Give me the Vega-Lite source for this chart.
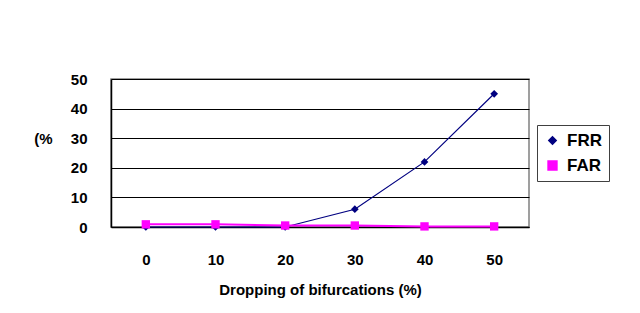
{
  "$schema": "https://vega.github.io/schema/vega-lite/v6.json",
  "width": 418,
  "height": 148,
  "autosize": "none",
  "padding": {"left": 111, "top": 79, "right": 111, "bottom": 86},
  "background": "white",
  "config": {
    "font": "Liberation Sans",
    "view": {"stroke": "#808080", "strokeWidth": 1.5}
  },
  "data": {
    "values": [
      {"drop": "0", "series": "FRR", "value": 0},
      {"drop": "10", "series": "FRR", "value": 0},
      {"drop": "20", "series": "FRR", "value": 0},
      {"drop": "30", "series": "FRR", "value": 6},
      {"drop": "40", "series": "FRR", "value": 22},
      {"drop": "50", "series": "FRR", "value": 45},
      {"drop": "0", "series": "FAR", "value": 0.9},
      {"drop": "10", "series": "FAR", "value": 0.9},
      {"drop": "20", "series": "FAR", "value": 0.5},
      {"drop": "30", "series": "FAR", "value": 0.5},
      {"drop": "40", "series": "FAR", "value": 0.2},
      {"drop": "50", "series": "FAR", "value": 0.2}
    ]
  },
  "encoding": {
    "y": {
      "field": "value",
      "type": "quantitative",
      "scale": {"domain": [0, 50], "nice": false},
      "axis": {
        "values": [0, 10, 20, 30, 40, 50],
        "title": "(%",
        "titleAngle": 0,
        "titleX": -68,
        "titleY": 59,
        "titleAlign": "center",
        "titleBaseline": "middle",
        "titleFontSize": 15,
        "titleFontWeight": "bold",
        "titleColor": "#000",
        "labelFontSize": 15,
        "labelFontWeight": "bold",
        "labelColor": "#000",
        "labelPadding": 24,
        "ticks": false,
        "domainColor": "#000",
        "domainWidth": 1.5,
        "gridColor": "#000",
        "gridWidth": 1,
        "gridOpacity": 1
      }
    }
  },
  "layer": [
    {
      "mark": {"type": "line"},
      "encoding": {
        "x": {
          "field": "drop",
          "type": "ordinal",
          "sort": null,
          "scale": {"paddingInner": 0, "paddingOuter": 0},
          "axis": {
            "title": "Dropping of bifurcations (%)",
            "titleFontSize": 15,
            "titleFontWeight": "bold",
            "titleColor": "#000",
            "titlePadding": 15,
            "labelAngle": 0,
            "labelFontSize": 15,
            "labelFontWeight": "bold",
            "labelColor": "#000",
            "labelPadding": 25,
            "ticks": false,
            "domainColor": "#000",
            "domainWidth": 1.5,
            "grid": false
          }
        },
        "strokeWidth": {
          "field": "series",
          "type": "nominal",
          "scale": {"domain": ["FRR", "FAR"], "range": [1.2, 2]},
          "legend": null
        },
        "color": {
          "field": "series",
          "type": "nominal",
          "scale": {"domain": ["FRR", "FAR"], "range": ["#000080", "#FF00FF"]},
          "legend": {
            "title": null,
            "orient": "none",
            "legendX": 426,
            "legendY": 46,
            "strokeColor": "#404040",
            "fillColor": "white",
            "padding": 7,
            "rowPadding": 7,
            "labelFontSize": 17,
            "labelFontWeight": "bold",
            "labelColor": "#000",
            "labelOffset": 6,
            "symbolSize": 70
          }
        }
      }
    },
    {
      "mark": {"type": "point", "filled": true, "opacity": 1},
      "encoding": {
        "x": {
          "field": "drop",
          "type": "ordinal",
          "sort": null,
          "scale": {"paddingInner": 0, "paddingOuter": 0}
        },
        "color": {
          "field": "series",
          "type": "nominal",
          "scale": {"domain": ["FRR", "FAR"], "range": ["#000080", "#FF00FF"]},
          "legend": null
        },
        "shape": {
          "field": "series",
          "type": "nominal",
          "scale": {"domain": ["FRR", "FAR"], "range": ["diamond", "square"]},
          "legend": null
        },
        "size": {
          "field": "series",
          "type": "nominal",
          "scale": {"domain": ["FRR", "FAR"], "range": [60, 70]},
          "legend": null
        }
      }
    }
  ]
}
